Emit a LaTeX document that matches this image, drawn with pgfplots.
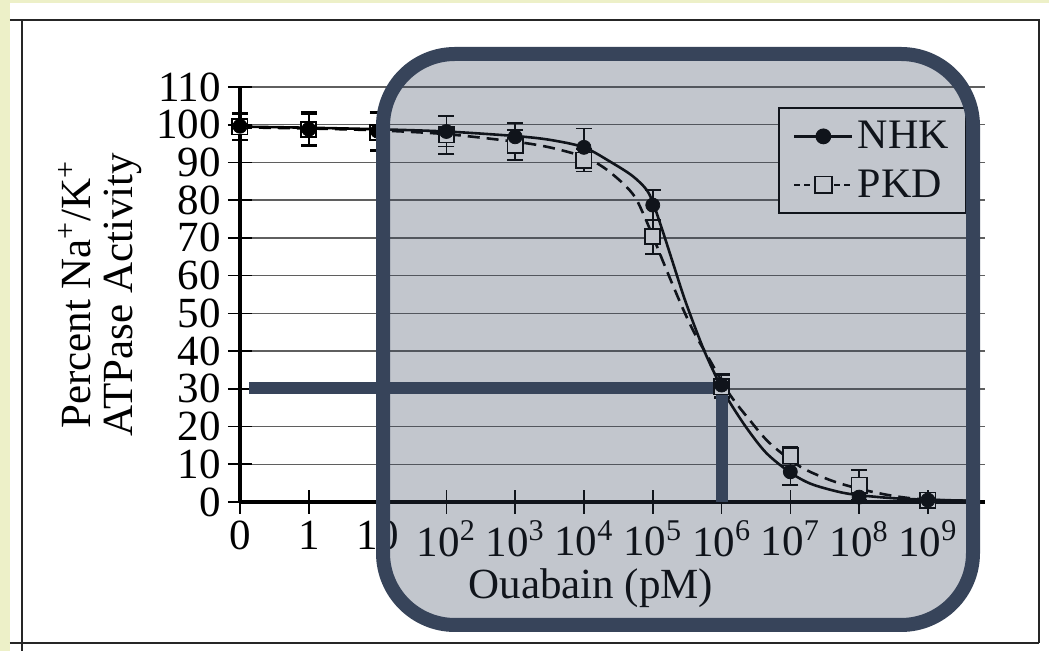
\documentclass[border=0pt]{standalone}
\usepackage{fontspec}
\setmainfont{Liberation Serif}
\usepackage{pgfplots}
\pgfplotsset{compat=1.18}
\definecolor{navy}{RGB}{55,68,90}
\definecolor{bgyellow}{RGB}{237,240,200}
\definecolor{gridgray}{RGB}{95,95,95}
\newcommand{\bigfont}{\fontsize{21.5}{21}\selectfont}

\pgfplotstableread{
x y e
0 99.6 3.5
1 98.8 4
2 98.3 5
3 98.2 4
4 96.8 3.6
5 94 5
6 78.7 4
7 31 3
8 8 3.5
9 1.3 1.5
10 0.5 1
}\nhk

\pgfplotstableread{
x y e
0 99.4 3.5
1 98.8 4.5
2 98 5
3 97.3 5
4 94.6 4
5 90.6 3
6 70.3 4.5
7 30.5 3
8 12.2 2.5
9 4.5 4
10 0.5 1
}\pkd

\begin{document}
\begin{tikzpicture}
\begin{scope}[x=0.5pt,y=-0.5pt,shift={(-120pt,251pt)}]
\fill[bgyellow] (0,0) rectangle (1049,651);
\useasboundingbox (0,0) rectangle (1049,651);
\fill[white] (10,3) rectangle (1049,651);
\draw[line width=1.1pt, black!85] (10,20) -- (1039,20) -- (1039,643);
\draw[line width=1.1pt, black!85] (22,20) -- (22,651);
\draw[line width=1.1pt, black!85] (10,643) -- (1039,643);
\end{scope}

\begin{axis}[
  at={(0,0)}, anchor=south west,
  scale only axis, width=372.5pt, height=207.5pt,
  xmin=0, xmax=10.83, ymin=0, ymax=110,
  clip=false,
  axis x line*=bottom, axis y line*=left,
  axis line style={black, line width=1.6pt},
  xtick={0,1,...,10},
  xticklabels={0,1,10,10\textsuperscript{2},10\textsuperscript{3},10\textsuperscript{4},10\textsuperscript{5},10\textsuperscript{6},10\textsuperscript{7},10\textsuperscript{8},10\textsuperscript{9}},
  ytick={0,10,...,110},
  ymajorgrids, grid style={gridgray, line width=0.7pt},
  tick align=center, major tick length=12pt,
  tick style={black, line width=0.8pt},
  /pgf/number format/assume math mode=true,
  tick label style={font=\bigfont},
  label style={font=\bigfont},
  xlabel={Ouabain (pM)},
  xlabel style={at={(axis description cs:0.471,-0.207)}, anchor=center},
  ylabel={Percent Na\textsuperscript{+}/K\textsuperscript{+}\\ATPase Activity},
  ylabel style={align=center, at={(axis description cs:-0.188,0.5)}, anchor=center},
  legend style={at={(axis description cs:0.977,0.952)}, anchor=north east,
    draw=black, line width=1.2pt, fill=white, font=\fontsize{21}{21}\selectfont,
    inner xsep=7pt, inner ysep=4.5pt, row sep=5pt, cells={anchor=west}},
  legend image code/.code={\draw[mark repeat=2,mark phase=2,#1] plot coordinates {(0pt,0pt) (14.5pt,0pt) (29pt,0pt)};},
]
\addlegendimage{black, line width=1.3pt, mark=*, mark size=3.3pt}
\addlegendentry{NHK}
\addlegendimage{black, line width=1.3pt, dash pattern=on 3pt off 2pt, mark=square*, mark size=4.2pt, mark options={solid, fill=white, line width=0.9pt}}
\addlegendentry{PKD}

% fitted curves
\addplot[black, line width=1.3pt, smooth, tension=0.5, forget plot] coordinates {
(0,99.5) (1,99.2) (2,98.8) (3,98.2) (4,97) (4.5,96) (5,94) (5.4,90) (5.7,86.5) (5.9,83) (6.0,79.5) (6.15,71.5) (6.3,63) (6.45,54.5) (6.6,47) (6.75,40) (6.9,34) (7.05,28.5) (7.35,20) (7.65,13) (8.0,7.8) (8.3,4.8) (8.7,2.7) (9,1.8) (9.5,1) (10,0.6) (10.72,0.3)};
\addplot[black, line width=1.3pt, dash pattern=on 6pt off 3.5pt, smooth, tension=0.5, forget plot] coordinates {
(0,99.3) (1,99) (2,98.5) (3,97.5) (4,95.5) (4.5,94) (5,91.5) (5.3,88.5) (5.57,84.4) (5.74,80.9) (5.86,76.5) (6.0,70.5) (6.2,61.5) (6.42,52) (6.6,45) (6.83,37.6) (7.12,28.5) (7.41,21.7) (7.7,15.6) (8.14,9.4) (8.58,5.8) (9,3.5) (9.5,1.6) (10,0.6) (10.72,0.3)};

% PKD data
\addplot[forget plot, only marks, mark=square*, mark size=3.8pt,
  mark options={fill=white, draw=black, line width=0.9pt},
  error bars/.cd, y dir=both, y explicit,
  error bar style={line width=0.8pt, black},
  error mark options={rotate=90, mark size=4pt, line width=0.8pt, black}]
  table[x=x, y=y, y error=e] {\pkd};
% NHK data
\addplot[forget plot, only marks, mark=*, mark size=3.5pt, black,
  error bars/.cd, y dir=both, y explicit,
  error bar style={line width=0.8pt, black},
  error mark options={rotate=90, mark size=4pt, line width=0.8pt, black}]
  table[x=x, y=y, y error=e] {\nhk};

% highlight line
\addplot[navy, line width=6pt, line join=miter, forget plot] coordinates {(0.13,30.2) (7,30.2) (7,0)};
\end{axis}

\begin{scope}[x=0.5pt,y=-0.5pt,shift={(-120pt,251pt)}]
\draw[navy, line width=7pt, fill=navy, fill opacity=0.3, rounded corners=36pt] (383,54) rectangle (973,625);
\end{scope}
\end{tikzpicture}
\end{document}
